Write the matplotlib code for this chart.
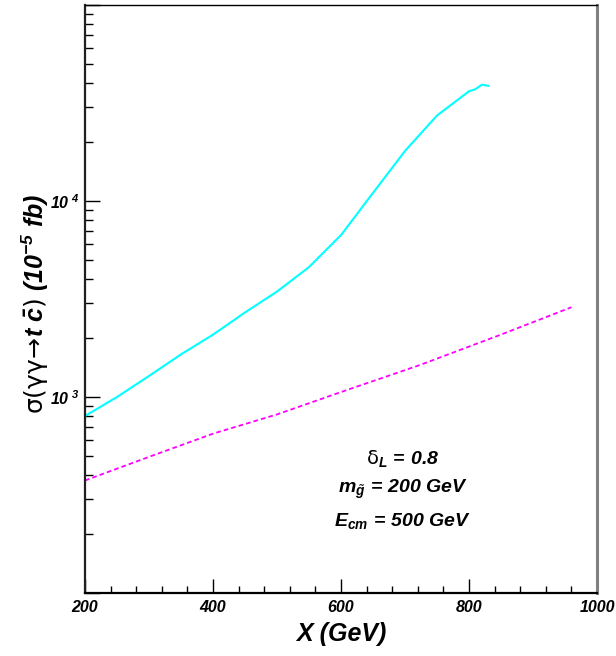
import numpy as np
import matplotlib
matplotlib.use('Agg')
import matplotlib.pyplot as plt
from matplotlib.ticker import FixedLocator, FuncFormatter, LogLocator, MultipleLocator

plt.rcParams['font.family'] = ['Liberation Sans', 'DejaVu Sans']
plt.rcParams['mathtext.fontset'] = 'custom'
plt.rcParams['mathtext.rm'] = 'DejaVu Sans'
plt.rcParams['mathtext.it'] = 'Liberation Sans:italic'
plt.rcParams['mathtext.bf'] = 'Liberation Sans:italic:bold'

# cross sections in units of 1e-5 fb
x_cyan = [200, 250, 300, 350, 400, 450, 500, 550, 600, 650, 700, 750, 800, 810, 820, 830]
sigma_cyan = [800, 1000, 1280, 1650, 2080, 2700, 3450, 4600, 6700, 11000,
              18000, 27300, 36300, 37200, 39200, 38700]

x_magenta = [200, 300, 400, 500, 600, 723, 848, 960]
sigma_magenta = [375, 495, 650, 815, 1060, 1455, 2070, 2870]

fig = plt.figure(figsize=(6.16, 6.56), dpi=100)
ax = fig.add_axes([85/616, 63/656, 512/616, 588/656])

ax.plot(x_cyan, sigma_cyan, color='#00FFFF', lw=1.5)
ax.plot(x_magenta, sigma_magenta, color='#FF00FF', lw=1.3, ls=(0, (2.6, 1.7)))

ax.set_yscale('log')
ax.set_xlim(200, 1000)
ax.set_ylim(100, 1e5)

ax.xaxis.set_major_locator(MultipleLocator(200))
ax.xaxis.set_minor_locator(MultipleLocator(40))
ax.yaxis.set_major_locator(FixedLocator([1e2, 1e3, 1e4, 1e5]))
ax.yaxis.set_minor_locator(LogLocator(base=10, subs=np.arange(2, 10)))

def ylab(v, pos):
    if v in (1e3, 1e4):
        return r'$\mathbf{10^{\ %d}}$' % int(round(np.log10(v)))
    return ''

ax.yaxis.set_major_formatter(FuncFormatter(ylab))
ax.yaxis.set_minor_formatter(FuncFormatter(lambda v, p: ''))

ax.tick_params(which='both', direction='in', top=False, right=False, color='black')
ax.tick_params(axis='x', which='major', length=10, width=1, pad=5, labelsize=11.5)
ax.tick_params(axis='x', which='minor', length=5, width=1)
ax.tick_params(axis='y', which='major', length=11, width=1, pad=4, labelsize=11.5)
ax.tick_params(axis='y', which='minor', length=6, width=1)
for lbl in ax.get_xticklabels():
    lbl.set_fontweight('bold')
    lbl.set_fontstyle('italic')

ax.spines['left'].set_linewidth(1.6)
ax.spines['left'].set_color('#202020')
ax.spines['bottom'].set_linewidth(1.6)
ax.spines['top'].set_linewidth(1.0)
ax.spines['right'].set_linewidth(2.2)
ax.spines['right'].set_color('#808080')

ax.set_xlabel('X (GeV)', fontsize=18, fontweight='bold', fontstyle='italic', labelpad=5)
fig.text(35/616, 1 - 304/656,
         r'$\mathrm{σ(γγ\!\rightarrow\!}\mathbf{t\ \bar{c}}\mathrm{)}\ \mathbf{(10^{-5}\ fb)}$',
         rotation=90, fontsize=18, ha='center', va='center')

labels = [r'$\mathrm{δ}_{\mathbf{L}}\mathbf{\,=\,0.8}$',
          r'$\mathbf{m}_{\tilde{\mathbf{g}}}\mathbf{\,=\,200\ GeV}$',
          r'$\mathbf{E}_{\mathbf{cm}}\mathbf{\,=\,500\ GeV}$']
for txt, yf in zip(labels, [0.228, 0.176, 0.123]):
    ax.text(0.621, yf, txt, transform=ax.transAxes, fontsize=14,
            ha='center', va='center')

fig.savefig('out.png', dpi=100)
